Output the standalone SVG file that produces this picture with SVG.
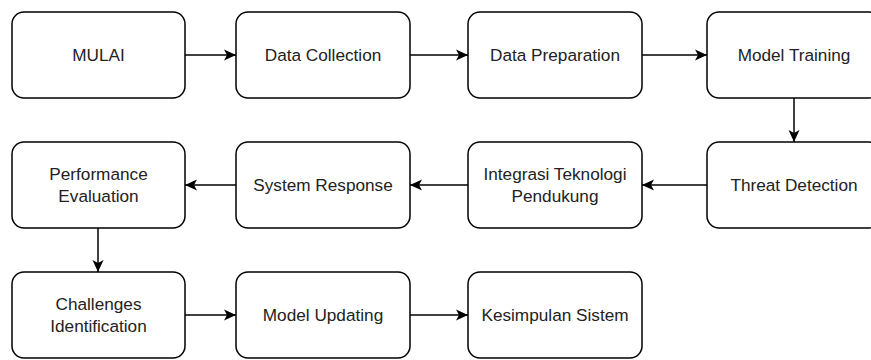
<svg xmlns="http://www.w3.org/2000/svg" width="871" height="360" viewBox="0 0 871 360">
<style>
.box{fill:#fff;stroke:#000;stroke-width:1.5}
.t{font-family:"Liberation Sans",Arial,sans-serif;font-size:17.2px;fill:#222;text-anchor:middle}
.c{fill:none;stroke:#000;stroke-width:1.5}
</style>
<defs>
<marker id="ah" markerUnits="userSpaceOnUse" markerWidth="14" markerHeight="14" viewBox="0 0 14 14" refX="13" refY="7" orient="auto">
<path d="M1,1.5 L13,7 L1,12.5 L4,7 Z" fill="#000"/>
</marker>
</defs>
<rect width="871" height="360" fill="#fff"/>
<g id="connectors">
<line class="c" x1="185" y1="55" x2="236" y2="55" marker-end="url(#ah)"/>
<line class="c" x1="410" y1="55" x2="468" y2="55" marker-end="url(#ah)"/>
<line class="c" x1="642" y1="55" x2="707" y2="55" marker-end="url(#ah)"/>
<line class="c" x1="794" y1="98" x2="794" y2="142" marker-end="url(#ah)"/>
<line class="c" x1="707" y1="185" x2="642" y2="185" marker-end="url(#ah)"/>
<line class="c" x1="468" y1="185" x2="410" y2="185" marker-end="url(#ah)"/>
<line class="c" x1="236" y1="185" x2="185" y2="185" marker-end="url(#ah)"/>
<line class="c" x1="98" y1="228" x2="98" y2="272" marker-end="url(#ah)"/>
<line class="c" x1="185" y1="315" x2="236" y2="315" marker-end="url(#ah)"/>
<line class="c" x1="410" y1="315" x2="468" y2="315" marker-end="url(#ah)"/>
</g>
<g id="n1"><rect class="box" x="12" y="12" width="173" height="86" rx="12"/><text class="t" x="98.5" y="61">MULAI</text></g>
<g id="n2"><rect class="box" x="236" y="12" width="174" height="86" rx="12"/><text class="t" x="323" y="61">Data Collection</text></g>
<g id="n3"><rect class="box" x="468" y="12" width="174" height="86" rx="12"/><text class="t" x="555" y="61">Data Preparation</text></g>
<g id="n4"><rect class="box" x="707" y="12" width="174" height="86" rx="12"/><text class="t" x="794" y="61">Model Training</text></g>
<g id="n5"><rect class="box" x="707" y="142" width="174" height="86" rx="12"/><text class="t" x="794" y="191">Threat Detection</text></g>
<g id="n6"><rect class="box" x="468" y="142" width="174" height="86" rx="12"/><text class="t" x="555" y="180">Integrasi Teknologi</text><text class="t" x="555" y="202">Pendukung</text></g>
<g id="n7"><rect class="box" x="236" y="142" width="174" height="86" rx="12"/><text class="t" x="323" y="191">System Response</text></g>
<g id="n8"><rect class="box" x="12" y="142" width="173" height="86" rx="12"/><text class="t" x="98.5" y="180">Performance</text><text class="t" x="98.5" y="202">Evaluation</text></g>
<g id="n9"><rect class="box" x="12" y="272" width="173" height="86" rx="12"/><text class="t" x="98.5" y="310">Challenges</text><text class="t" x="98.5" y="332">Identification</text></g>
<g id="n10"><rect class="box" x="236" y="272" width="174" height="86" rx="12"/><text class="t" x="323" y="321">Model Updating</text></g>
<g id="n11"><rect class="box" x="468" y="272" width="174" height="86" rx="12"/><text class="t" x="555" y="321">Kesimpulan Sistem</text></g>
</svg>
